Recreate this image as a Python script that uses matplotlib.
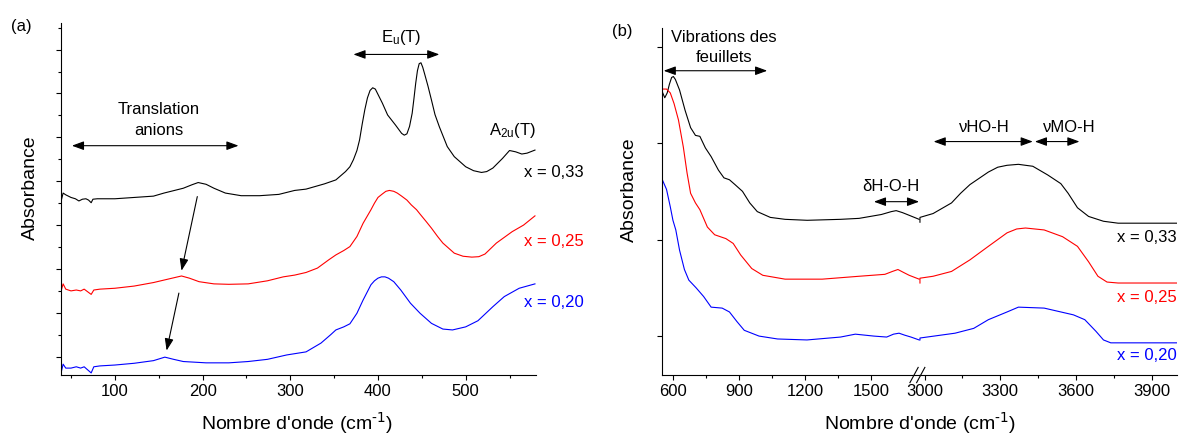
import matplotlib
matplotlib.use('Agg')
import matplotlib.pyplot as plt
from matplotlib.ticker import MultipleLocator, FixedLocator

plt.rcParams['font.family'] = ['Liberation Sans', 'DejaVu Sans']
plt.rcParams['mathtext.default'] = 'regular'

# ---- (a) far-IR, absorbance (arbitrary units, curves offset) ----
wn_a_033 = [39, 41, 44, 50, 55, 59, 63, 67, 70, 73, 75, 80, 100, 122, 144, 156, 178, 188, 195, 204,
            213, 226, 244, 265, 287, 305, 318, 339, 352, 363, 368, 372, 376, 379, 382, 385, 388, 391,
            394, 397, 400, 405, 411, 420, 427, 430, 433, 436, 439, 441, 443, 445, 447, 449, 451, 453,
            457, 461, 465, 470, 479, 487, 500, 509, 518, 524, 531, 542, 550, 557, 564, 570, 579]
abs_a_033 = [3.57, 3.73, 3.69, 3.63, 3.60, 3.55, 3.59, 3.60, 3.57, 3.51, 3.59, 3.60, 3.60, 3.63, 3.66,
             3.73, 3.84, 3.92, 3.97, 3.93, 3.84, 3.73, 3.67, 3.67, 3.70, 3.79, 3.82, 3.94, 4.03, 4.22,
             4.33, 4.49, 4.70, 4.94, 5.30, 5.63, 5.90, 6.07, 6.13, 6.10, 5.98, 5.78, 5.51, 5.28, 5.09,
             5.05, 5.08, 5.25, 5.55, 5.88, 6.23, 6.52, 6.68, 6.70, 6.60, 6.46, 6.17, 5.85, 5.52, 5.24,
             4.79, 4.56, 4.33, 4.24, 4.20, 4.22, 4.30, 4.52, 4.70, 4.67, 4.62, 4.64, 4.71]

wn_a_025 = [39, 41, 44, 50, 56, 61, 65, 73, 76, 83, 100, 122, 144, 161, 176, 185, 196, 213, 230, 252,
            274, 292, 305, 318, 331, 344, 352, 361, 368, 376, 383, 392, 396, 400, 405, 409, 413, 418,
            422, 427, 433, 438, 444, 448, 455, 461, 468, 474, 487, 497, 507, 515, 522, 535, 553, 566,
            579]
abs_a_025 = [1.52, 1.66, 1.54, 1.50, 1.52, 1.50, 1.54, 1.42, 1.52, 1.54, 1.56, 1.61, 1.69, 1.77, 1.84,
             1.79, 1.71, 1.66, 1.65, 1.66, 1.73, 1.82, 1.86, 1.92, 2.02, 2.21, 2.32, 2.42, 2.51, 2.74,
             3.04, 3.35, 3.50, 3.63, 3.71, 3.77, 3.79, 3.77, 3.73, 3.66, 3.57, 3.46, 3.35, 3.25, 3.08,
             2.93, 2.74, 2.59, 2.36, 2.29, 2.27, 2.28, 2.34, 2.59, 2.85, 3.00, 3.21]

wn_a_020 = [39, 41, 44, 50, 56, 61, 65, 73, 76, 83, 100, 122, 144, 157, 167, 178, 204, 230, 252, 274,
            296, 318, 335, 346, 352, 361, 368, 376, 383, 392, 396, 400, 404, 408, 412, 418, 426, 437,
            448, 461, 474, 485, 500, 514, 531, 544, 561, 579]
abs_a_020 = [-0.34, -0.17, -0.26, -0.26, -0.23, -0.26, -0.23, -0.37, -0.23, -0.21, -0.19, -0.15, -0.09,
             -0.01, -0.06, -0.11, -0.14, -0.14, -0.11, -0.06, 0.04, 0.11, 0.31, 0.50, 0.61, 0.68, 0.75,
             0.99, 1.29, 1.64, 1.73, 1.79, 1.82, 1.82, 1.79, 1.71, 1.52, 1.22, 0.99, 0.76, 0.63, 0.61,
             0.68, 0.82, 1.14, 1.37, 1.56, 1.66]

# ---- (b) mid-IR, split at the axis break (low / high wavenumbers) ----
wn_b_033_lo = [553, 564, 575, 585, 595, 603, 612, 631, 656, 681, 703, 723, 748, 774, 807, 832, 857,
               882, 916, 949, 983, 1042, 1109, 1209, 1360, 1444, 1545, 1590, 1612, 1640, 1662, 1716]
abs_b_033_lo = [2.53, 2.47, 2.52, 2.61, 2.68, 2.69, 2.66, 2.55, 2.34, 2.16, 2.08, 2.07, 1.95, 1.86,
                1.72, 1.64, 1.62, 1.57, 1.50, 1.38, 1.29, 1.23, 1.21, 1.20, 1.21, 1.22, 1.26, 1.29,
                1.30, 1.28, 1.26, 1.21]
wn_b_033_hi = [2982, 2982, 3034, 3107, 3143, 3180, 3253, 3290, 3327, 3372, 3400, 3429, 3488, 3540,
               3569, 3606, 3650, 3709, 3767, 4000]
abs_b_033_hi = [1.18, 1.23, 1.27, 1.38, 1.48, 1.57, 1.70, 1.75, 1.77, 1.78, 1.77, 1.76, 1.67, 1.58,
                1.48, 1.33, 1.24, 1.19, 1.17, 1.17]

wn_b_025_lo = [548, 572, 589, 606, 626, 648, 665, 681, 703, 723, 757, 790, 841, 874, 908, 958, 1008,
               1109, 1277, 1444, 1561, 1595, 1620, 1645, 1671, 1716]
abs_b_025_lo = [2.56, 2.56, 2.52, 2.41, 2.24, 1.96, 1.69, 1.48, 1.38, 1.31, 1.13, 1.05, 1.01, 0.96,
                0.84, 0.70, 0.63, 0.59, 0.59, 0.62, 0.64, 0.67, 0.69, 0.66, 0.63, 0.59]
wn_b_025_hi = [2982, 2982, 3034, 3107, 3180, 3253, 3327, 3365, 3400, 3474, 3547, 3606, 3650, 3687,
               3723, 3767, 4000]
abs_b_025_hi = [0.55, 0.60, 0.62, 0.67, 0.79, 0.93, 1.07, 1.11, 1.12, 1.10, 1.03, 0.93, 0.77, 0.62,
                0.56, 0.55, 0.55]

wn_b_020_lo = [553, 572, 589, 601, 614, 631, 653, 673, 706, 740, 774, 824, 857, 891, 924, 991, 1075,
               1208, 1360, 1427, 1511, 1569, 1600, 1625, 1650, 1679, 1716]
abs_b_020_lo = [1.62, 1.52, 1.34, 1.20, 1.10, 0.89, 0.69, 0.58, 0.50, 0.41, 0.30, 0.29, 0.25, 0.15,
                0.06, 0.00, -0.03, -0.04, -0.01, 0.02, 0.00, -0.01, 0.02, 0.03, 0.01, -0.01, -0.04]
wn_b_020_hi = [2982, 2982, 3121, 3195, 3253, 3327, 3372, 3474, 3590, 3635, 3679, 3709, 3738, 4000]
abs_b_020_hi = [-0.04, -0.02, 0.03, 0.08, 0.17, 0.25, 0.30, 0.29, 0.22, 0.17, 0.05, -0.04, -0.07, -0.07]

compositions = ['x = 0,33', 'x = 0,25', 'x = 0,20']
colors = ['black', '#ff0000', '#0000ff']

fig = plt.figure(figsize=(11.8, 4.37), dpi=100)
ax_a = fig.add_axes([0.0520, 0.1426, 0.4021, 0.8041])
ax_b1 = fig.add_axes([0.5613, 0.1426, 0.2180, 0.7927])
ax_b2 = fig.add_axes([0.7792, 0.1426, 0.2182, 0.7927], sharey=ax_b1)

# panel (a)
for wn, ab, c in zip([wn_a_033, wn_a_025, wn_a_020], [abs_a_033, abs_a_025, abs_a_020], colors):
    ax_a.plot(wn, ab, color=c, lw=0.8)
ax_a.set_xlim(39, 580)
ax_a.set_ylim(-0.41, 7.6)
ax_a.xaxis.set_major_locator(MultipleLocator(100))
ax_a.xaxis.set_minor_locator(MultipleLocator(50))
ax_a.yaxis.set_major_locator(MultipleLocator(1))
ax_a.yaxis.set_minor_locator(MultipleLocator(0.5))
ax_a.tick_params(labelleft=False)

# panel (b), broken x axis
for wn_lo, ab_lo, wn_hi, ab_hi, c in zip([wn_b_033_lo, wn_b_025_lo, wn_b_020_lo],
                                          [abs_b_033_lo, abs_b_025_lo, abs_b_020_lo],
                                          [wn_b_033_hi, wn_b_025_hi, wn_b_020_hi],
                                          [abs_b_033_hi, abs_b_025_hi, abs_b_020_hi], colors):
    ax_b1.plot(wn_lo, ab_lo, color=c, lw=0.8)
    ax_b2.plot(wn_hi, ab_hi, color=c, lw=0.8)
ax_b1.set_xlim(553, 1718)
ax_b2.set_xlim(2980, 4000)
ax_b1.set_ylim(-0.40, 3.19)
ax_b1.xaxis.set_major_locator(FixedLocator([600, 900, 1200, 1500]))
ax_b1.xaxis.set_minor_locator(FixedLocator([750, 1050, 1350]))
ax_b2.xaxis.set_major_locator(FixedLocator([3000, 3300, 3600, 3900]))
ax_b2.xaxis.set_minor_locator(FixedLocator([3150, 3450, 3750]))
ax_b1.yaxis.set_major_locator(MultipleLocator(1))
ax_b1.tick_params(labelleft=False)
ax_b2.tick_params(left=False, labelleft=False)
ax_b2.spines['left'].set_visible(False)

for ax in (ax_a, ax_b1, ax_b2):
    ax.spines['top'].set_visible(False)
    ax.spines['right'].set_visible(False)
    for s in ax.spines.values():
        s.set_linewidth(0.8)
    ax.tick_params(which='major', direction='out', length=3.5, width=0.8, labelsize=12, pad=3)
    ax.tick_params(which='minor', direction='out', length=2, width=0.8)
    ax.patch.set_alpha(0)

# break marks
brk = dict(transform=ax_b2.transAxes, color='black', lw=0.8, clip_on=False)
ax_b2.plot([-0.037, -0.005], [-0.023, 0.021], **brk)
ax_b2.plot([-0.011, 0.021], [-0.023, 0.021], **brk)

arr2 = dict(arrowstyle='<|-|>,head_length=0.6,head_width=0.22', color='black', lw=0.8,
            mutation_scale=12, shrinkA=0, shrinkB=0)
arr1 = dict(arrowstyle='-|>,head_length=0.6,head_width=0.22', color='black', lw=0.8,
            mutation_scale=12, shrinkA=0, shrinkB=0)

# annotations (a)
ax_a.text(150, 5.40, 'Translation\nanions', ha='center', va='center', fontsize=12, linespacing=1.45)
ax_a.annotate('', xy=(241, 4.81), xytext=(51, 4.81), arrowprops=arr2)
ax_a.text(426, 7.18, 'E$_u$(T)', ha='center', va='baseline', fontsize=12)
ax_a.annotate('', xy=(470, 6.89), xytext=(372, 6.89), arrowprops=arr2)
ax_a.text(553, 5.05, 'A$_{2u}$(T)', ha='center', va='baseline', fontsize=12)
ax_a.annotate('', xy=(176, 1.96), xytext=(194, 3.65), arrowprops=arr1)
ax_a.annotate('', xy=(159, 0.14), xytext=(173, 1.45), arrowprops=arr1)
for lab, c, y in zip(compositions, colors, [4.10, 2.53, 1.14]):
    ax_a.text(635, y, lab, color=c, ha='right', va='baseline', fontsize=12)

# annotations (b)
ax_b1.text(832, 2.99, 'Vibrations des\nfeuillets', ha='center', va='center', fontsize=12,
           linespacing=1.4)
ax_b1.annotate('', xy=(1028, 2.75), xytext=(559, 2.75), arrowprops=arr2)
ax_b1.text(1586, 1.507, '\u03b4H-O-H', ha='center', va='baseline', fontsize=12)
ax_b1.annotate('', xy=(1716, 1.393), xytext=(1511, 1.393), arrowprops=arr2)
ax_b2.text(3239, 2.119, '\u03bdHO-H', ha='center', va='baseline', fontsize=12)
ax_b2.annotate('', xy=(3429, 2.016), xytext=(3036, 2.016), arrowprops=arr2)
ax_b2.text(3573, 2.119, '\u03bdMO-H', ha='center', va='baseline', fontsize=12)
ax_b2.annotate('', xy=(3614, 2.016), xytext=(3437, 2.016), arrowprops=arr2)
for lab, c, y in zip(compositions, colors, [0.978, 0.356, -0.249]):
    ax_b2.text(4000, y, lab, color=c, ha='right', va='baseline', fontsize=12)

# panel letters and axis titles
fig.text(0.0178, 0.9400, '(a)', ha='center', va='center', fontsize=12)
fig.text(0.527, 0.9275, '(b)', ha='center', va='center', fontsize=12)
fig.text(0.0254, 0.57, 'Absorbance', rotation=90, ha='center', va='center', fontsize=14)
fig.text(0.5335, 0.565, 'Absorbance', rotation=90, ha='center', va='center', fontsize=14)
xlab = "Nombre d'onde (cm$^{\\text{-1}}$)"
fig.text(0.2517, 0.016, xlab, ha='center', va='baseline', fontsize=14)
fig.text(0.7797, 0.016, xlab, ha='center', va='baseline', fontsize=14)

fig.savefig('out.png', dpi=100)
